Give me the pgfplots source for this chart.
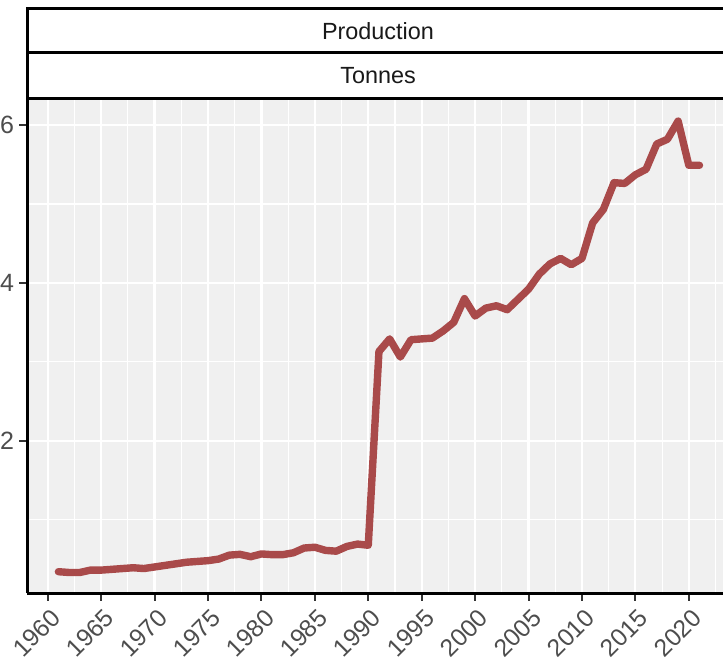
\documentclass[border=0pt]{standalone}
\usepackage{fontspec}
\setmainfont{Liberation Sans}
\usepackage{pgfplots}
\usepackage{pgfplotstable}
\pgfplotsset{compat=1.18}

\definecolor{panelbg}{HTML}{F0F0F0}
\definecolor{prodline}{HTML}{A94A4A}
\definecolor{ticktext}{HTML}{4D4D4D}

% production, tonnes
\pgfplotstableread{
year value
1961 0.34
1962 0.33
1963 0.33
1964 0.36
1965 0.36
1966 0.37
1967 0.38
1968 0.39
1969 0.38
1970 0.40
1971 0.42
1972 0.44
1973 0.46
1974 0.47
1975 0.48
1976 0.50
1977 0.55
1978 0.56
1979 0.53
1980 0.565
1981 0.556
1982 0.556
1983 0.58
1984 0.64
1985 0.65
1986 0.61
1987 0.60
1988 0.66
1989 0.69
1990 0.675
1991 3.13
1992 3.29
1993 3.06
1994 3.28
1995 3.29
1996 3.30
1997 3.39
1998 3.50
1999 3.80
2000 3.58
2001 3.68
2002 3.71
2003 3.66
2004 3.79
2005 3.92
2006 4.11
2007 4.24
2008 4.31
2009 4.23
2010 4.31
2011 4.76
2012 4.93
2013 5.27
2014 5.26
2015 5.37
2016 5.44
2017 5.76
2018 5.82
2019 6.05
2020 5.49
2021 5.49
}\prodtable

\begin{document}
\begin{tikzpicture}
\begin{axis}[
  at={(0,0)}, anchor=south west,
  scale only axis, width=348pt, height=247pt,
  xmin=1958.06, xmax=2023.2, ymin=0.07, ymax=6.33,
  axis background/.style={fill=panelbg},
  axis lines=left,
  axis line style={-, line width=1.5pt, black},
  xtick={1960,1965,...,2020}, ytick={2,4,6},
  minor xtick={1957.5,1962.5,...,2022.5}, minor ytick={1,3,5},
  grid=both,
  major grid style={white, line width=1.1pt},
  minor grid style={white, line width=0.6pt},
  tick align=outside, major tick length=3.8pt, minor tick length=0pt,
  tick style={black!80, line width=1pt},
  /pgf/number format/assume math mode=true,
  /pgf/number format/1000 sep={},
  xticklabel style={font=\fontsize{12.3}{14}\selectfont, text=ticktext,
    rotate=45, anchor=north east, inner sep=1.5pt, yshift=-1.5pt},
  yticklabel style={font=\fontsize{12.5}{14}\selectfont, text=ticktext, inner sep=2.5pt},
]
\addplot[prodline, line width=3.7pt, line join=round, line cap=round] table[x=year, y=value] {\prodtable};
\end{axis}
% facet strips
\fill[white] (0,247pt) rectangle (348pt,292pt);
\draw[line width=1.5pt] (349pt,247pt) -- (0,247pt) -- (0,292pt) -- (349pt,292pt);
\draw[line width=1.5pt] (0,270pt) -- (349pt,270pt);
\node[font=\fontsize{11.7}{14}\selectfont, text=black!90] at (175.5pt,281pt) {Production};
\node[font=\fontsize{11.7}{14}\selectfont, text=black!90] at (175.5pt,258.5pt) {Tonnes};
\pgfresetboundingbox
\useasboundingbox (-13.5pt,-33.5pt) rectangle (348pt,296.5pt);
\end{tikzpicture}
\end{document}
